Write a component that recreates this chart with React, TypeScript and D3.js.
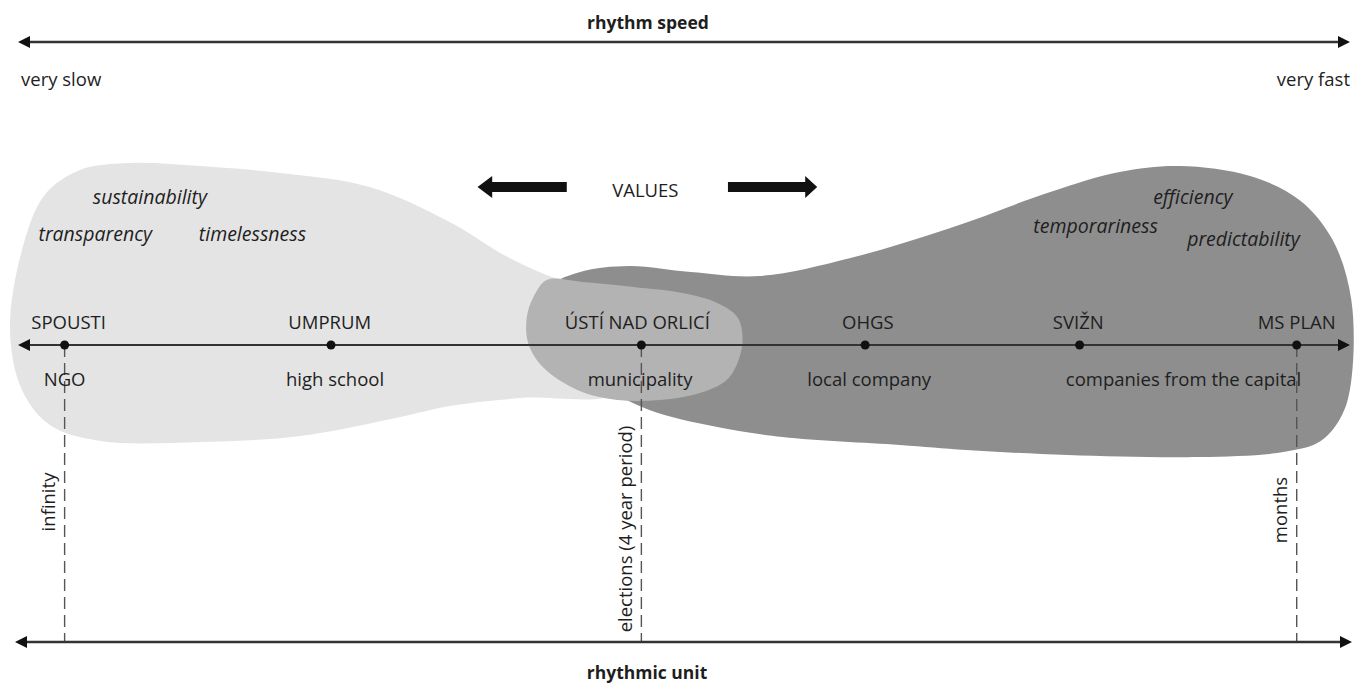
import * as d3 from 'd3';

// speed axis: 0 = very slow, 100 = very fast
const projects = ['SPOUSTI', 'UMPRUM', 'ÚSTÍ NAD ORLICÍ', 'OHGS', 'SVIŽN', 'MS PLAN'];
const projectSpeed = [3.5, 23.5, 46.8, 63.6, 79.7, 96.0];
const projectLabelSpeed = [3.8, 23.4, 46.5, 63.8, 79.6, 96.0];

const actorTypes = ['NGO', 'high school', 'municipality', 'local company', 'companies from the capital'];
const actorSpeed = [3.5, 23.8, 46.7, 63.9, 87.5];

const rhythmUnits = ['infinity', 'elections (4 year period)', 'months'];
const unitSpeed = [3.5, 46.8, 96.0];
const unitOffset = [-157, -184, -165];

const slowValues = ['sustainability', 'transparency', 'timelessness'];
const slowValueSpeed = [9.9, 5.8, 17.6];
const slowValueOffset = [149, 112, 112];

const fastValues = ['efficiency', 'temporariness', 'predictability'];
const fastValueSpeed = [88.2, 80.9, 92.0];
const fastValueOffset = [149, 120, 107];

// outlines: [speed, offset above the axis]
const slowBlob: [number, number][] = [
  [-0.6, 15], [0.3, 95], [2.0, 150], [4.65, 175], [8.4, 182], [13.7, 179], [19.7, 172],
  [26.4, 158], [32.4, 123], [36.9, 87], [40.7, 65], [45.2, 50], [46.7, 5], [45.2, -47],
  [37.7, -53], [32.4, -61], [28.7, -72], [21.2, -91], [13.7, -97], [6.2, -96], [2.4, -80], [0.3, -45],
];
const fastBlob: [number, number][] = [
  [39.6, 55], [42.2, 73], [45.9, 79], [50.5, 73], [55.7, 69], [62.5, 87], [70.0, 117],
  [77.5, 153], [82.7, 173], [87.2, 179], [92.5, 169], [96.2, 145], [98.7, 105], [100.1, 45],
  [100.1, -35], [99.4, -70], [97.8, -96], [95.0, -107], [88.7, -112], [78.8, -110],
  [71.2, -105], [66.2, -100], [57.4, -92], [52.5, -82], [47.4, -65], [43.7, -40], [40.7, -10], [39.6, 25],
];
const middleBlob: [number, number][] = [
  [38.7, 48], [39.7, 65], [42.4, 63], [46.2, 58], [49.9, 52], [52.5, 42], [54.0, 28],
  [54.4, 8], [54.1, -15], [53.2, -35], [51.2, -48], [48.2, -55], [45.0, -55], [42.0, -45],
  [39.4, -22], [38.3, 2], [38.2, 28],
];

const W = 1355;
const H = 683;
const axisY = 345;
const topY = 42;
const bottomY = 642;
const font = '"Open Sans", Lato, sans-serif';
const ink = '#1e1e1e';
const fs = 18.5;
const fsItalic = 19.5;
const fsBold = 17.5;

const x = d3.scaleLinear().domain([0, 100]).range([18, 1350]);
const y = d3.scaleLinear().domain([-200, 200]).range([axisY + 200, axisY - 200]);

const blob = d3
  .line<[number, number]>()
  .x(d => x(d[0]))
  .y(d => y(d[1]))
  .curve(d3.curveCatmullRomClosed.alpha(0.5));

function DoubleArrow({ yy, x0, x1, w }: { yy: number; x0: number; x1: number; w: number }) {
  return (
    <g>
      <line x1={x0 + 8} x2={x1 - 8} y1={yy} y2={yy} stroke="#333" strokeWidth={w} />
      <path d={`M${x0},${yy} L${x0 + 12},${yy - 6} L${x0 + 12},${yy + 6} Z`} fill="#111" />
      <path d={`M${x1},${yy} L${x1 - 12},${yy - 6} L${x1 - 12},${yy + 6} Z`} fill="#111" />
    </g>
  );
}

function BlockArrow({ tip, base, end, yy }: { tip: number; base: number; end: number; yy: number }) {
  const d = `M${tip},${yy} L${base},${yy - 11} L${base},${yy - 5} L${end},${yy - 5} L${end},${yy + 5} L${base},${yy + 5} L${base},${yy + 11} Z`;
  return <path d={d} fill="#111" />;
}

export default function App() {
  const valuesY = y(158);
  return (
    <svg width={W} height={H} style={{ position: 'absolute', left: 0, top: 0, background: '#fff' }} fontFamily={font}>
      <path d={blob(slowBlob) || ''} fill="#e4e4e4" />
      <path d={blob(fastBlob) || ''} fill="#8e8e8e" />
      <path d={blob(middleBlob) || ''} fill="#b3b3b3" />

      {/* rhythm speed */}
      <text x={648} y={22} textAnchor="middle" dominantBaseline="central" fontWeight="bold" fontSize={fsBold} fill={ink}>
        rhythm speed
      </text>
      <DoubleArrow yy={topY} x0={x(0)} x1={x(100)} w={2.5} />
      <text x={x(0) + 3} y={78} dominantBaseline="central" fontSize={fs} fill={ink}>very slow</text>
      <text x={x(100)} y={78} textAnchor="end" dominantBaseline="central" fontSize={fs} fill={ink}>very fast</text>

      {/* values */}
      <BlockArrow tip={x(34.5)} base={x(35.6)} end={x(41.2)} yy={valuesY} />
      <BlockArrow tip={x(60.0)} base={x(59.1)} end={x(53.3)} yy={valuesY} />
      <text x={x(47.1)} y={valuesY + 2} textAnchor="middle" dominantBaseline="central" fontSize={fs} fill={ink}>VALUES</text>
      {slowValues.map((v, i) => (
        <text key={v} x={x(slowValueSpeed[i])} y={y(slowValueOffset[i])} textAnchor="middle" dominantBaseline="central"
          fontStyle="italic" fontSize={fsItalic} fill={ink}>{v}</text>
      ))}
      {fastValues.map((v, i) => (
        <text key={v} x={x(fastValueSpeed[i])} y={y(fastValueOffset[i])} textAnchor="middle" dominantBaseline="central"
          fontStyle="italic" fontSize={fsItalic} fill={ink}>{v}</text>
      ))}

      {/* dashed unit lines */}
      {unitSpeed.map((s, i) => (
        <line key={i} x1={x(s)} x2={x(s)} y1={axisY} y2={bottomY} stroke="#555" strokeWidth={1.4} strokeDasharray="12,6" />
      ))}
      {rhythmUnits.map((u, i) => (
        <text key={u} transform={`translate(${x(unitSpeed[i]) - 17},${y(unitOffset[i])}) rotate(-90)`}
          textAnchor="middle" dominantBaseline="central" fontSize={fs} fill={ink}>{u}</text>
      ))}

      {/* main axis */}
      <DoubleArrow yy={axisY} x0={x(0)} x1={x(100)} w={2} />
      {projects.map((p, i) => (
        <g key={p}>
          <circle cx={x(projectSpeed[i])} cy={axisY} r={4.5} fill="#111" />
          <text x={x(projectLabelSpeed[i])} y={axisY - 24} textAnchor="middle" dominantBaseline="central" fontSize={fs} fill={ink}>{p}</text>
        </g>
      ))}
      {actorTypes.map((a, i) => (
        <text key={a} x={x(actorSpeed[i])} y={axisY + 33} textAnchor="middle" dominantBaseline="central" fontSize={fs} fill={ink}>{a}</text>
      ))}

      {/* rhythmic unit */}
      <DoubleArrow yy={bottomY} x0={15} x1={1352} w={2.5} />
      <text x={647} y={672} textAnchor="middle" dominantBaseline="central" fontWeight="bold" fontSize={fsBold} fill={ink}>
        rhythmic unit
      </text>
    </svg>
  );
}
